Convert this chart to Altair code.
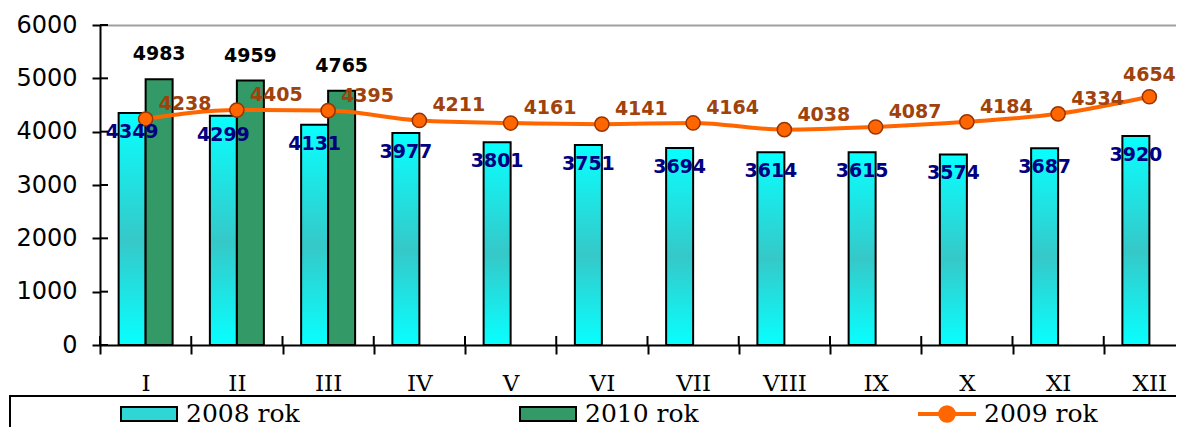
import altair as alt
import pandas as pd

months = ["I", "II", "III", "IV", "V", "VI", "VII", "VIII", "IX", "X", "XI", "XII"]
v2008 = [4349, 4299, 4131, 3977, 3801, 3751, 3694, 3614, 3615, 3574, 3687, 3920]
v2009 = [4238, 4405, 4395, 4211, 4161, 4141, 4164, 4038, 4087, 4184, 4334, 4654]
v2010 = [4983, 4959, 4765]
series_names = ["2008 rok", "2010 rok", "2009 rok"]
y_ticks = [0, 1000, 2000, 3000, 4000, 5000, 6000]

df08 = pd.DataFrame({"month": months, "value": v2008, "series": "2008 rok"})
df10 = pd.DataFrame({"month": months[:len(v2010)], "value": v2010, "series": "2010 rok"})
df09 = pd.DataFrame({"month": months, "value": v2009, "series": "2009 rok"})
df_leg = pd.DataFrame({"series": series_names})
df_yt = pd.DataFrame({"value": y_ticks})
df_xt = pd.DataFrame({"month": months})

x_scale = alt.Scale(domain=months, range=[0, 1095], paddingInner=0, paddingOuter=0)
x_axis = alt.Axis(title=None, labelFont="DejaVu Serif", labelFontSize=23, labelColor="black",
                  tickBand="extent", tickSize=9, tickWidth=2, tickColor="black",
                  domainColor="black", domainWidth=2, labelPadding=18, labelAngle=0)
y_scale = alt.Scale(domain=[0, 6000], nice=False)
y_axis = alt.Axis(title=None, values=y_ticks, format="d", labelFont="DejaVu Sans", labelFontSize=24,
                  labelColor="black", tickSize=8, tickWidth=2, tickColor="black",
                  domainColor="black", domainWidth=2, labelPadding=15,
                  grid=True, gridColor="#a0a0a0", gridWidth=2,
                  gridOpacity={"condition": {"test": "datum.value === 6000", "value": 1}, "value": 0})
xoff = alt.XOffset("series:N", scale=alt.Scale(domain=["2008 rok", "2010 rok"],
                                               paddingInner=0, paddingOuter=0.69))

X = alt.X("month:N", scale=x_scale, axis=x_axis)
Y = alt.Y("value:Q", scale=y_scale, axis=y_axis)

grad = alt.LinearGradient(gradient="linear", x1=0, x2=0, y1=0, y2=1, stops=[
    alt.GradientStop(color="#08ffff", offset=0),
    alt.GradientStop(color="#36c8c8", offset=0.55),
    alt.GradientStop(color="#08ffff", offset=1),
])

bars08 = alt.Chart(df08).mark_bar(fill=grad, stroke="black", strokeWidth=2).encode(
    x=X, xOffset=xoff, y=Y)
bars10 = alt.Chart(df10).mark_bar(fill="#339966", stroke="black", strokeWidth=2).encode(
    x=X, xOffset=xoff, y=Y)

line09 = alt.Chart(df09).mark_line(color="#ff6600", strokeWidth=4, interpolate="monotone").encode(
    x=X, y=Y)
pts09 = alt.Chart(df09).mark_circle(size=200, fill="#ff6600", stroke="#993300",
                                    strokeWidth=1.5, opacity=1).encode(x=X, y=Y)

lab_font = dict(font="DejaVu Sans", fontWeight="bold", fontSize=19)
txt08 = alt.Chart(df08).mark_text(color="#000080", baseline="middle", dy=19, **lab_font).encode(
    x=X, xOffset=xoff, y=Y, text="value:Q")
txt10 = alt.Chart(df10).mark_text(color="black", baseline="middle", dy=-25, **lab_font).encode(
    x=X, xOffset=xoff, y=Y, text="value:Q")
txt09a = alt.Chart(df09).transform_filter("datum.month !== 'XII'").mark_text(
    color="#a0420c", align="left", baseline="middle", dx=13, dy=-15, **lab_font).encode(
    x=X, y=Y, text="value:Q")
txt09b = alt.Chart(df09).transform_filter("datum.month === 'XII'").mark_text(
    color="#a0420c", align="center", baseline="middle", dy=-22, **lab_font).encode(
    x=X, y=Y, text="value:Q")

# inner halves of the crossing axis ticks
ytick_in = alt.Chart(df_yt).mark_rule(color="black", strokeWidth=2).encode(
    y=Y, x=alt.value(0), x2=alt.value(8))
xtick_in = alt.Chart(df_xt).mark_rule(color="black", strokeWidth=2).encode(
    x=alt.X("month:N", scale=x_scale, axis=x_axis, bandPosition=0),
    y=alt.value(311), y2=alt.value(320))

rect_sym = "M-1,-0.25H1V0.25H-1Z"
line_sym = ("M-1,-0.035H1V0.035H-1Z "
            "M0.28,0A0.28,0.28 0 1,1 -0.28,0A0.28,0.28 0 1,1 0.28,0Z")
leg = alt.Legend(title=None, orient="none", legendX=20, legendY=360, direction="horizontal",
                 columns=3, columnPadding=216, symbolSize=3136, symbolStrokeWidth=2,
                 labelFont="DejaVu Serif", labelFontSize=25, labelColor="black",
                 labelOffset=8, padding=0, symbolOpacity=1)
legend_layer = alt.Chart(df_leg).transform_filter("false").mark_point(filled=True, opacity=1).encode(
    fill=alt.Fill("series:N", scale=alt.Scale(domain=series_names,
                                              range=["#2ed6d6", "#339966", "#ff6600"]), legend=leg),
    stroke=alt.Stroke("series:N", scale=alt.Scale(domain=series_names,
                                                  range=["black", "black", "#ff6600"]), legend=leg),
    shape=alt.Shape("series:N", scale=alt.Scale(domain=series_names,
                                                range=[rect_sym, rect_sym, line_sym]), legend=leg),
)

box = alt.Chart(alt.Data(values=[{"k": 1}])).mark_rect(
    fill="white", fillOpacity=0, stroke="black", strokeWidth=2).encode(
    x=alt.value(-90), x2=alt.value(1200), y=alt.value(371), y2=alt.value(440))

chart = alt.layer(box, bars08, bars10, line09, pts09, txt08, txt10, txt09a, txt09b,
                  ytick_in, xtick_in, legend_layer).properties(
    width=1076, height=320,
    autosize=alt.AutoSizeParams(type="none"),
    padding={"left": 92, "top": 17, "right": 0, "bottom": 82},
).configure_view(stroke=None).configure(background="white")

chart.save("out.html", embed_options={"renderer": "svg", "actions": False})
